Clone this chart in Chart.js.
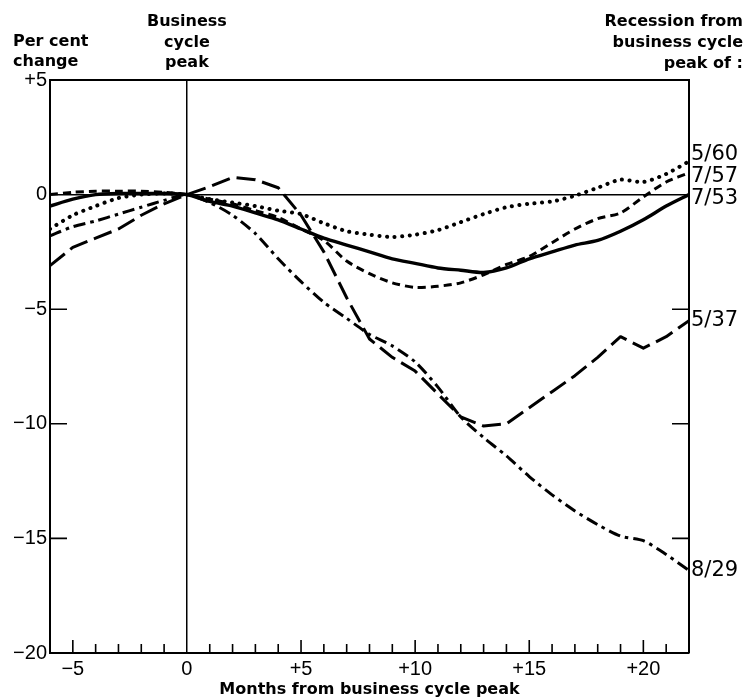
<!DOCTYPE html>
<html>
<head>
<meta charset="utf-8">
<script src="https://cdn.jsdelivr.net/npm/chart.js@4.4.1/dist/chart.umd.min.js"></script>
<style>
	html, body { margin: 0; padding: 0; background: #fff; }
	#wrap { width: 746px; height: 700px; position: relative; }
</style>
</head>
<body>
<div id="wrap"><canvas id="chart" width="746" height="700"></canvas></div>
<script>
// months relative to the business cycle peak
var months = [-6, -5, -4, -3, -2, -1, 0, 1, 2, 3, 4, 5, 6, 7, 8, 9, 10, 11, 12, 13, 14, 15, 16, 17, 18, 19, 20, 21, 22];

// per cent change from the peak month, one array per recession
var rec1953 = [-0.5, -0.2, 0, 0.05, 0.05, 0.05, 0, -0.3, -0.5, -0.8, -1.1, -1.5, -1.9, -2.2, -2.5, -2.8, -3.0, -3.2, -3.3, -3.4, -3.2, -2.8, -2.5, -2.2, -2.0, -1.6, -1.1, -0.5, 0];
var rec1957 = [0, 0.1, 0.15, 0.15, 0.15, 0.1, 0, -0.2, -0.4, -0.7, -1.0, -1.5, -2.0, -2.9, -3.45, -3.85, -4.05, -4.0, -3.85, -3.5, -3.05, -2.7, -2.1, -1.5, -1.05, -0.8, -0.1, 0.55, 0.95];
var rec1960 = [-1.5, -0.9, -0.5, -0.15, 0, 0.05, 0, -0.2, -0.35, -0.5, -0.7, -0.85, -1.25, -1.6, -1.75, -1.85, -1.75, -1.55, -1.2, -0.85, -0.55, -0.4, -0.3, -0.05, 0.3, 0.65, 0.55, 0.9, 1.45];
var rec1937 = [-3.1, -2.3, -1.9, -1.5, -0.9, -0.4, 0, 0.35, 0.75, 0.65, 0.3, -0.9, -2.5, -4.5, -6.3, -7.1, -7.7, -8.7, -9.7, -10.1, -10.0, -9.3, -8.6, -7.9, -7.1, -6.2, -6.7, -6.2, -5.5];
var rec1929 = [-1.8, -1.4, -1.15, -0.85, -0.55, -0.25, 0, -0.35, -0.9, -1.7, -2.8, -3.8, -4.7, -5.4, -6.1, -6.6, -7.3, -8.4, -9.7, -10.6, -11.4, -12.3, -13.1, -13.8, -14.4, -14.9, -15.1, -15.7, -16.4];

var seriesNames = ['7/53', '7/57', '5/60', '5/37', '8/29'];
var seriesValues = [rec1953, rec1957, rec1960, rec1937, rec1929];

var yTicks = [5, 0, -5, -10, -15, -20];
var xLabelEvery = 5;

var headFamily = '"DejaVu Sans", Verdana, sans-serif';
var tickFamily = '"Liberation Sans", Arial, sans-serif';
var titleFont = 'bold 16px ' + headFamily;

var lineStyles = [
	{ borderDash: [], borderWidth: 3.4, capStyle: 'butt', tension: 0.25 },
	{ borderDash: [8, 5], borderWidth: 3, capStyle: 'butt', tension: 0.25 },
	{ borderDash: [0.1, 7.5], borderWidth: 4, capStyle: 'round', tension: 0.25 },
	{ borderDash: [19, 7], borderWidth: 3, capStyle: 'butt', tension: 0 },
	{ borderDash: [12, 5, 3.5, 5], borderWidth: 3, capStyle: 'butt', tension: 0.25 }
];

function signed(v) {
	if (v > 0) return '+' + v;
	if (v < 0) return '\u2212' + Math.abs(v);
	return '0';
}

var datasets = seriesValues.map(function (values, i) {
	var st = lineStyles[i];
	return {
		label: seriesNames[i],
		data: months.map(function (m, j) { return { x: m, y: values[j] }; }),
		borderColor: '#000',
		borderWidth: st.borderWidth,
		borderDash: st.borderDash,
		borderCapStyle: st.capStyle,
		borderJoinStyle: 'round',
		tension: st.tension,
		pointRadius: 0,
		fill: false
	};
});

// frame, inward tick marks, end labels and corner headings
var decorations = {
	id: 'decorations',
	afterDraw: function (chart) {
		var ctx = chart.ctx;
		var area = chart.chartArea;
		var xs = chart.scales.x;
		var ys = chart.scales.y;

		ctx.save();
		ctx.strokeStyle = '#000';
		ctx.lineWidth = 2;
		ctx.beginPath();
		ctx.moveTo(area.left, area.top);
		ctx.lineTo(area.right, area.top);
		ctx.lineTo(area.right, area.bottom);
		ctx.stroke();

		ctx.lineWidth = 1.6;
		ctx.beginPath();
		for (var m = -5; m < 22; m++) {
			if (m === 0) continue;
			var px = xs.getPixelForValue(m);
			var len = m % 5 === 0 ? 13 : 9;
			ctx.moveTo(px, area.bottom);
			ctx.lineTo(px, area.bottom - len);
		}
		[-5, -10, -15].forEach(function (v) {
			var py = ys.getPixelForValue(v);
			ctx.moveTo(area.left, py);
			ctx.lineTo(area.left + 17, py);
			ctx.moveTo(area.right, py);
			ctx.lineTo(area.right - 17, py);
		});
		ctx.stroke();

		// labels at the right end of each line, spread so they do not collide
		var ends = seriesValues.map(function (values, i) {
			return { text: seriesNames[i], y: ys.getPixelForValue(values[values.length - 1]) };
		}).sort(function (a, b) { return a.y - b.y; });
		var gap = 22;
		for (var pass = 0; pass < 10; pass++) {
			for (var k = 1; k < ends.length; k++) {
				var d = ends[k].y - ends[k - 1].y;
				if (d < gap) {
					var push = (gap - d) / 2;
					ends[k - 1].y -= push;
					ends[k].y += push;
				}
			}
		}
		ctx.fillStyle = '#000';
		ctx.font = '21px ' + headFamily;
		ctx.textAlign = 'left';
		ctx.textBaseline = 'middle';
		ends.forEach(function (e) {
			ctx.fillText(e.text, area.right + 2, e.y);
		});

		ctx.font = titleFont;
		ctx.textBaseline = 'middle';
		ctx.textAlign = 'left';
		ctx.fillText('Per cent', 13, 42);
		ctx.fillText('change', 13, 62);

		ctx.textAlign = 'center';
		var peakX = xs.getPixelForValue(0);
		ctx.fillText('Business', peakX, 22);
		ctx.fillText('cycle', peakX, 43);
		ctx.fillText('peak', peakX, 63);

		ctx.textAlign = 'right';
		ctx.fillText('Recession from', 743, 22);
		ctx.fillText('business cycle', 743, 43);
		ctx.fillText('peak of :', 743, 64);
		ctx.restore();
	}
};

function zeroLine(ctx) {
	return ctx.tick && ctx.tick.value === 0 ? '#000' : 'rgba(0,0,0,0)';
}

new Chart(document.getElementById('chart'), {
	type: 'line',
	data: { datasets: datasets },
	options: {
		responsive: false,
		animation: false,
		layout: { padding: { top: 80, right: 57, left: 0, bottom: 0 } },
		plugins: {
			legend: { display: false },
			tooltip: { enabled: false }
		},
		scales: {
			x: {
				type: 'linear',
				min: -6,
				max: 22,
				ticks: {
					stepSize: 1,
					autoSkip: false,
					maxRotation: 0,
					color: '#000',
					font: { family: tickFamily, size: 20 },
					padding: 4,
					callback: function (v) { return v % xLabelEvery === 0 ? signed(v) : ''; }
				},
				grid: { color: zeroLine, lineWidth: 1.5, drawTicks: false },
				border: { color: '#000', width: 2 },
				title: {
					display: true,
					text: 'Months from business cycle peak',
					color: '#000',
					font: { family: headFamily, size: 16, weight: 'bold' },
					padding: { top: 0, bottom: 1 }
				},
				afterFit: function (scale) { scale.height = 47; }
			},
			y: {
				min: -20,
				max: 5,
				afterBuildTicks: function (scale) {
					scale.ticks = yTicks.map(function (v) { return { value: v }; });
				},
				ticks: {
					color: '#000',
					font: { family: tickFamily, size: 20 },
					padding: 3,
					callback: function (v) { return signed(v); }
				},
				grid: { color: zeroLine, lineWidth: 1.5, drawTicks: false },
				border: { color: '#000', width: 2 },
				afterFit: function (scale) { scale.width = 50; }
			}
		}
	},
	plugins: [decorations]
});
</script>
</body>
</html>
